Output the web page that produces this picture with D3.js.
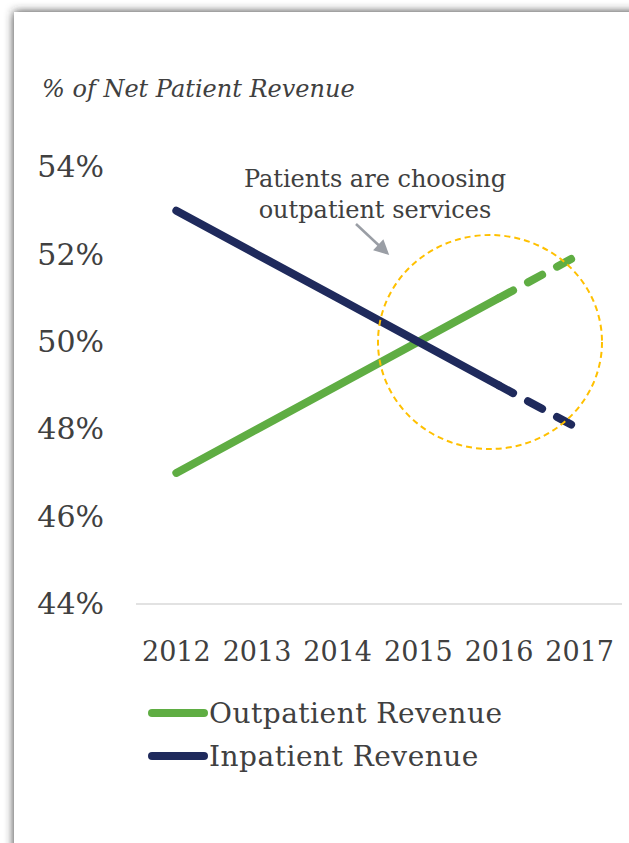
<!DOCTYPE html>
<html lang="en">
  <head>
    <meta charset="UTF-8" />
    <title>Net Patient Revenue</title>
    <script src="https://cdn.jsdelivr.net/npm/d3@7"></script>
    <style>
      html, body { margin: 0; padding: 0; background: #fff; }
      svg { display: block; font-family: "DejaVu Serif", serif; }
    </style>
  </head>
  <body>
    <svg width="629" height="843"></svg>
    <script>
      const years = ["2012", "2013", "2014", "2015", "2016", "2017"];
      const outpatient = [47, 48, 49, 50, 51, 52];
      const inpatient = [53, 52, 51, 50, 49, 48];
      const yTicks = [44, 46, 48, 50, 52, 54];
      const seriesNames = ["Outpatient Revenue", "Inpatient Revenue"];
      const seriesColors = ["#5fad43", "#1f2a5c"];
      const projectedFrom = "2016"; // dashed from here on

      const svg = d3.select("svg");
      const textColor = "#404040";

      // panel with soft shadow top/left
      const defs = svg.append("defs");
      const blur = defs.append("filter").attr("id", "shadow")
        .attr("x", "-10%").attr("y", "-10%").attr("width", "120%").attr("height", "120%");
      blur.append("feGaussianBlur").attr("stdDeviation", 5);
      svg.append("rect").attr("x", 14).attr("y", 12).attr("width", 700).attr("height", 900)
        .attr("fill", "#333").attr("filter", "url(#shadow)");
      svg.append("rect").attr("x", 14).attr("y", 12).attr("width", 700).attr("height", 900)
        .attr("fill", "#fff");

      const x = d3.scaleBand().domain(years).range([136, 620]);
      const y = d3.scaleLinear().domain([44, 54]).range([604, 167]);
      const cx = d => x(d) + x.bandwidth() / 2;

      // title
      svg.append("text").attr("x", 42).attr("y", 97)
        .attr("font-size", 24).attr("font-style", "italic").attr("fill", textColor)
        .text("% of Net Patient Revenue");

      // y axis labels
      const yAxis = d3.axisLeft(y).tickValues(yTicks).tickSize(0).tickPadding(0)
        .tickFormat(d => d + "%");
      svg.append("g").attr("transform", "translate(104,0)").call(yAxis)
        .call(g => g.select(".domain").remove())
        .selectAll("text").attr("font-size", 30).attr("fill", textColor)
        .attr("font-family", "DejaVu Serif");

      // baseline gridline
      svg.append("line").attr("x1", 136).attr("x2", 622)
        .attr("y1", y(44)).attr("y2", y(44))
        .attr("stroke", "#d9d9d9").attr("stroke-width", 1.5);

      // x axis labels
      const xAxis = d3.axisBottom(x).tickSize(0).tickPadding(0);
      svg.append("g").attr("transform", "translate(0,661)").call(xAxis)
        .call(g => g.select(".domain").remove())
        .selectAll("text").attr("font-size", 27).attr("fill", textColor)
        .attr("font-family", "DejaVu Serif").attr("dy", 0);

      // series
      const line = d3.line().x(d => cx(d.year)).y(d => y(d.value));
      const splitAt = years.indexOf(projectedFrom);
      [outpatient, inpatient].forEach((vals, i) => {
        const pts = years.map((yr, j) => ({ year: yr, value: vals[j] }));
        svg.append("path").attr("d", line(pts.slice(0, splitAt + 1)))
          .attr("fill", "none").attr("stroke", seriesColors[i])
          .attr("stroke-width", 8).attr("stroke-linecap", "round");
        svg.append("path").attr("d", line(pts.slice(splitAt)))
          .attr("fill", "none").attr("stroke", seriesColors[i])
          .attr("stroke-width", 8).attr("stroke-linecap", "round")
          .attr("stroke-dasharray", "16,17");
      });

      // highlight ellipse
      svg.append("ellipse").attr("cx", 490).attr("cy", 342).attr("rx", 112).attr("ry", 107)
        .attr("fill", "none").attr("stroke", "#ffc000").attr("stroke-width", 2)
        .attr("stroke-dasharray", "6,4");

      // annotation
      const note = svg.append("text").attr("text-anchor", "middle")
        .attr("font-size", 24).attr("fill", textColor);
      note.append("tspan").attr("x", 375).attr("y", 187).text("Patients are choosing");
      note.append("tspan").attr("x", 375).attr("y", 218).text("outpatient services");

      defs.append("marker").attr("id", "arrow").attr("viewBox", "0 0 10 10")
        .attr("refX", 8).attr("refY", 5).attr("markerWidth", 7).attr("markerHeight", 6)
        .attr("markerUnits", "strokeWidth").attr("orient", "auto")
        .append("path").attr("d", "M0,0 L10,5 L0,10 Z").attr("fill", "#9a9ea5");
      svg.append("line").attr("x1", 356).attr("y1", 224).attr("x2", 387).attr("y2", 253)
        .attr("stroke", "#9a9ea5").attr("stroke-width", 2.5).attr("marker-end", "url(#arrow)");

      // legend
      const legend = svg.append("g");
      seriesNames.forEach((name, i) => {
        const ly = 713 + i * 43;
        legend.append("line").attr("x1", 152).attr("x2", 204).attr("y1", ly).attr("y2", ly)
          .attr("stroke", seriesColors[i]).attr("stroke-width", 8).attr("stroke-linecap", "round");
        legend.append("text").attr("x", 209).attr("y", ly + 10)
          .attr("font-size", 28).attr("letter-spacing", 0.5).attr("fill", textColor).text(name);
      });
    </script>
  </body>
</html>
